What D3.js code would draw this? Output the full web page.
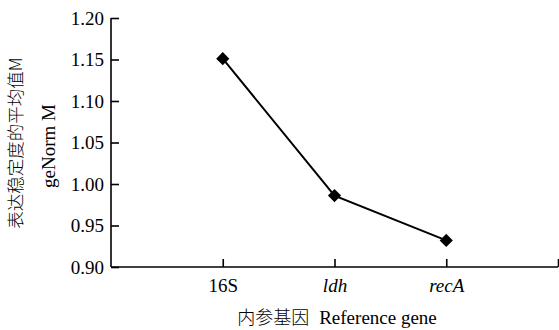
<!DOCTYPE html>
<html><head><meta charset="utf-8">
<script src="https://cdn.jsdelivr.net/npm/d3@7"></script>
<style>
body{margin:0;background:#fff;}
text{font-family:"Liberation Serif","Times New Roman",serif;fill:#000;}
.cjk{font-family:"Noto Sans CJK SC",sans-serif;font-weight:300;}
</style></head><body>
<svg id="c" width="559" height="330"></svg>
<script>
const categories = ["16S", "ldh", "recA"];
const italicCats = [false, true, true];
const values = [1.151, 0.986, 0.932];
const yTicks = [0.90, 0.95, 1.00, 1.05, 1.10, 1.15, 1.20];
const yTitleCN = "表达稳定度的平均值M";
const yTitleEN = "geNorm M";
const xTitleCN = "内参基因";
const xTitleEN = "Reference gene";

const svg = d3.select("#c");
const x = d3.scaleLinear().domain([0, 4]).range([111, 558]);
const y = d3.scaleLinear().domain([0.90, 1.20]).range([267, 18]);
const serif = '"Liberation Serif","Times New Roman",serif';

// y axis
const yAxis = d3.axisLeft(y).tickValues(yTicks).tickFormat(d3.format(".2f")).tickSize(-8).tickPadding(6);
const gy = svg.append("g").attr("transform", "translate(111,0)").call(yAxis)
  .attr("font-family", serif).attr("font-size", 19);
gy.select(".domain").attr("d", `M0,${y(1.20)}V${y(0.90)}`).attr("stroke","#000").attr("stroke-width",1.6);
gy.selectAll(".tick line").attr("stroke","#000").attr("stroke-width",1.6);
gy.selectAll(".tick text").attr("x",-7).attr("font-family", serif).style("font-size","19px");

// x axis
const xTickVals = [1, 2, 3, 4];
const xAxis = d3.axisBottom(x).tickValues(xTickVals)
  .tickFormat(d => categories[d-1] || "").tickSize(-8).tickPadding(14);
const gx = svg.append("g").attr("transform", `translate(0,${y(0.90)})`).call(xAxis)
  .attr("font-family", serif).attr("font-size", 19);
gx.select(".domain").attr("d", `M${x(0)},0H${x(4)}`).attr("stroke","#000").attr("stroke-width",1.6);
gx.selectAll(".tick line").attr("stroke","#000").attr("stroke-width",1.6);
gx.selectAll(".tick text").attr("y",12).attr("dy","0.71em").style("font-size","19px")
  .attr("font-family", serif)
  .style("font-style", d => italicCats[d-1] ? "italic" : "normal");

// line
const pts = values.map((v,i)=>({x: i+1, v}));
svg.append("path").datum(pts)
  .attr("d", d3.line().x(d=>x(d.x)).y(d=>y(d.v)))
  .attr("fill","none").attr("stroke","#000").attr("stroke-width",2);
svg.selectAll(".mk").data(pts).enter().append("path")
  .attr("d", d3.symbol().type(d3.symbolDiamond2).size(110))
  .attr("transform", d=>`translate(${x(d.x)},${y(d.v)})`)
  .attr("fill","#000");

// y titles
svg.append("text").attr("class","cjk")
  .attr("transform","translate(22,143) rotate(-90)")
  .attr("text-anchor","middle").style("font-size","17.5px").text(yTitleCN);
svg.append("text")
  .attr("transform","translate(55,146) rotate(-90)")
  .attr("text-anchor","middle").style("font-size","19px").text(yTitleEN);

// x title
const xt = svg.append("text").attr("x",337).attr("y",324).attr("text-anchor","middle").style("font-size","19px");
xt.append("tspan").attr("class","cjk").style("font-size","18px").text(xTitleCN);
xt.append("tspan").attr("dx",10).text(xTitleEN);
</script>
</body></html>
